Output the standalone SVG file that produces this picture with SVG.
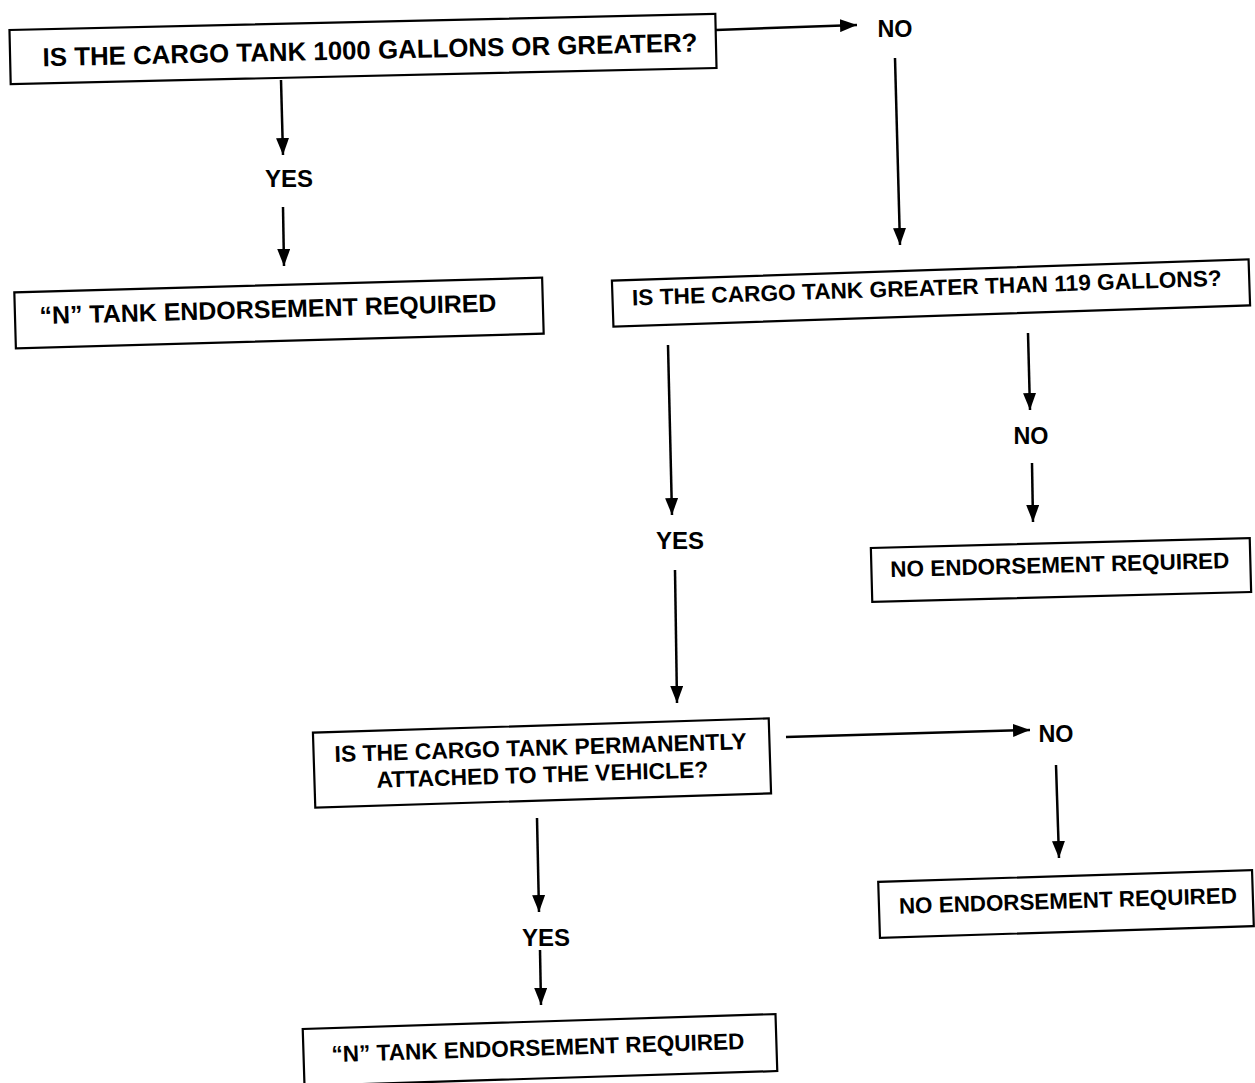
<svg xmlns="http://www.w3.org/2000/svg" width="1255" height="1083" viewBox="0 0 1255 1083">
<defs>
<marker id="ah" markerUnits="userSpaceOnUse" markerWidth="17" markerHeight="13" viewBox="0 0 17 13" refX="17" refY="6.5" orient="auto">
<path d="M0,0 L17,6.5 L0,13 Z" fill="#000"/>
</marker>
<style>
.box{fill:#fff;stroke:#000;stroke-width:2.2}
.t{font-family:"Liberation Sans",Arial,sans-serif;font-weight:bold;fill:#000;text-anchor:middle}
.lbl{font-family:"Liberation Sans",Arial,sans-serif;font-weight:bold;fill:#000;text-anchor:middle;font-size:24px}
.c{stroke:#000;stroke-width:2.5;fill:none;marker-end:url(#ah)}
</style>
</defs>
<rect width="1255" height="1083" fill="#fff"/>
<g id="connectors">
<line class="c" x1="281" y1="80" x2="283" y2="155"/>
<line class="c" x1="283" y1="207" x2="284" y2="266"/>
<line class="c" x1="716" y1="30" x2="857" y2="25"/>
<line class="c" x1="895" y1="58" x2="900" y2="245"/>
<line class="c" x1="668" y1="345" x2="672" y2="515"/>
<line class="c" x1="675" y1="570" x2="677" y2="703"/>
<line class="c" x1="1028" y1="333" x2="1030" y2="410"/>
<line class="c" x1="1032" y1="463" x2="1033" y2="522"/>
<line class="c" x1="786" y1="737" x2="1030" y2="730"/>
<line class="c" x1="1056" y1="765" x2="1059" y2="858"/>
<line class="c" x1="537" y1="818" x2="539" y2="912"/>
<line class="c" x1="540" y1="950" x2="541" y2="1005"/>
<text class="lbl" x="289" y="187" textLength="48" lengthAdjust="spacingAndGlyphs">YES</text>
<text class="lbl" x="895" y="37" textLength="35" lengthAdjust="spacingAndGlyphs">NO</text>
<text class="lbl" x="680" y="549" textLength="48" lengthAdjust="spacingAndGlyphs">YES</text>
<text class="lbl" x="1031" y="444" textLength="35" lengthAdjust="spacingAndGlyphs">NO</text>
<text class="lbl" x="1056" y="742" textLength="35" lengthAdjust="spacingAndGlyphs">NO</text>
<text class="lbl" x="546" y="946" textLength="48" lengthAdjust="spacingAndGlyphs">YES</text>
</g>
<g id="n1" transform="rotate(-1.3 363 49)">
<rect class="box" x="10" y="22" width="706" height="54"/>
<text class="t" x="370" y="59" font-size="26" textLength="655" lengthAdjust="spacingAndGlyphs">IS THE CARGO TANK 1000 GALLONS OR GREATER?</text>
</g>
<g id="n2" transform="rotate(-1.6 279 313)">
<rect class="box" x="15" y="285" width="528" height="56"/>
<text class="t" x="268" y="317.5" font-size="25" textLength="457" lengthAdjust="spacingAndGlyphs">“N” TANK ENDORSEMENT REQUIRED</text>
</g>
<g id="n3" transform="rotate(-1.9 931 293)">
<rect class="box" x="612.5" y="270" width="637" height="46"/>
<text class="t" x="927" y="295.5" font-size="22.5" textLength="590" lengthAdjust="spacingAndGlyphs">IS THE CARGO TANK GREATER THAN 119 GALLONS?</text>
</g>
<g id="n4" transform="rotate(-1.5 1061 570)">
<rect class="box" x="871.5" y="543" width="379" height="54"/>
<text class="t" x="1060" y="572.5" font-size="22.5" textLength="339" lengthAdjust="spacingAndGlyphs">NO ENDORSEMENT REQUIRED</text>
</g>
<g id="n5" transform="rotate(-1.8 542 763)">
<rect class="box" x="314" y="725.5" width="456" height="75"/>
<text class="t" x="541" y="755.5" font-size="23" textLength="412" lengthAdjust="spacingAndGlyphs">IS THE CARGO TANK PERMANENTLY</text>
<text class="t" x="542" y="782.5" font-size="23" textLength="332" lengthAdjust="spacingAndGlyphs">ATTACHED TO THE VEHICLE?</text>
</g>
<g id="n6" transform="rotate(-1.8 1066 904)">
<rect class="box" x="879" y="876" width="374" height="56"/>
<text class="t" x="1068" y="908.5" font-size="22.5" textLength="338" lengthAdjust="spacingAndGlyphs">NO ENDORSEMENT REQUIRED</text>
</g>
<g id="n7" transform="rotate(-1.8 540 1050)">
<rect class="box" x="303.5" y="1021.5" width="473" height="57"/>
<text class="t" x="538" y="1055.5" font-size="23" textLength="413" lengthAdjust="spacingAndGlyphs">“N” TANK ENDORSEMENT REQUIRED</text>
</g>
</svg>
